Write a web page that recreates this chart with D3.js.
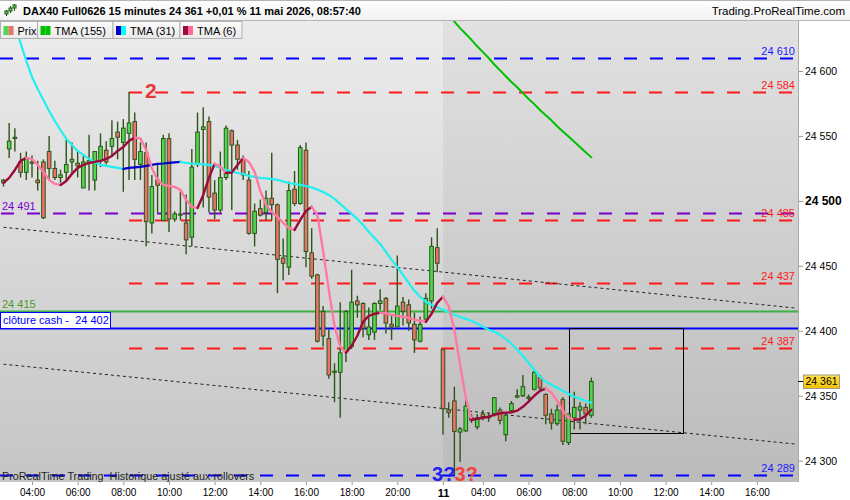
<!DOCTYPE html>
<html>
<head>
<meta charset="utf-8">
<script src="https://cdn.jsdelivr.net/npm/d3@7"></script>
<style>
  body { margin: 0; background: #fff; }
  svg { display: block; font-family: "Liberation Sans", Arial, sans-serif; }
</style>
</head>
<body>
<svg id="chart" width="850" height="500"></svg>
<script>
// ---- values ----
const title = "DAX40 Full0626 15 minutes 24 361 +0,01 % 11 mai 2026, 08:57:40";
const site = "Trading.ProRealTime.com";
const footer = "ProRealTime Trading  Historique ajusté aux rollovers";
const legendItems = ["Prix", "TMA (155)", "TMA (31)", "TMA (6)"];

const day1Start = "02:45";
const day2Start = "02:15";

// [open, high, low, close], one per 15 min bar
const day1Candles = [
  [24514, 24517, 24511, 24516], [24540, 24560, 24533, 24546], [24548, 24556, 24538, 24549],
  [24530, 24537, 24518, 24522], [24522, 24538, 24516, 24533], [24530, 24535, 24518, 24529],
  [24516, 24531, 24508, 24514], [24530, 24532, 24486, 24487], [24538, 24550, 24516, 24525],
  [24525, 24531, 24516, 24518], [24518, 24524, 24514, 24520], [24522, 24547, 24516, 24528],
  [24530, 24545, 24521, 24532], [24529, 24538, 24518, 24527], [24510, 24535, 24510, 24530],
  [24529, 24551, 24508, 24531], [24516, 24538, 24508, 24538], [24531, 24552, 24526, 24542],
  [24539, 24546, 24528, 24530], [24542, 24562, 24534, 24548], [24553, 24561, 24532, 24549],
  [24545, 24563, 24507, 24556], [24552, 24584, 24516, 24560], [24561, 24568, 24516, 24532],
  [24528, 24545, 24516, 24538], [24537, 24545, 24465, 24484], [24483, 24520, 24475, 24511],
  [24516, 24529, 24491, 24512], [24485, 24551, 24485, 24548], [24548, 24552, 24476, 24486],
  [24486, 24492, 24484, 24490], [24489, 24507, 24485, 24490], [24483, 24505, 24459, 24470],
  [24472, 24540, 24465, 24526], [24528, 24568, 24526, 24553], [24555, 24572, 24495, 24557],
  [24561, 24565, 24491, 24503], [24506, 24516, 24486, 24493], [24493, 24538, 24491, 24518],
  [24518, 24558, 24516, 24556], [24554, 24555, 24493, 24543], [24543, 24547, 24524, 24532],
  [24532, 24535, 24516, 24520], [24516, 24523, 24474, 24475], [24475, 24498, 24465, 24492],
  [24494, 24501, 24488, 24489], [24491, 24508, 24485, 24502], [24502, 24537, 24485, 24497],
  [24497, 24498, 24429, 24455], [24456, 24471, 24439, 24452], [24449, 24515, 24443, 24508],
  [24509, 24523, 24496, 24498], [24498, 24543, 24497, 24541], [24539, 24545, 24449, 24461],
  [24460, 24479, 24440, 24442], [24443, 24444, 24391, 24392], [24415, 24419, 24388, 24396],
  [24394, 24401, 24363, 24366], [24368, 24375, 24345, 24369], [24368, 24422, 24333, 24383],
  [24384, 24416, 24376, 24415], [24388, 24447, 24386, 24422], [24423, 24427, 24410, 24420],
  [24421, 24422, 24395, 24402], [24397, 24418, 24393, 24403], [24399, 24422, 24393, 24421],
  [24421, 24432, 24416, 24423], [24425, 24426, 24398, 24406], [24405, 24412, 24393, 24403],
  [24403, 24458, 24403, 24419], [24422, 24426, 24404, 24415], [24420, 24424, 24400, 24406],
  [24405, 24414, 24383, 24393], [24392, 24411, 24391, 24405], [24409, 24429, 24406, 24425],
  [24423, 24472, 24417, 24465], [24464, 24479, 24445, 24452]
];
const day2Candles = [
  [24385.5, 24386, 24320, 24340], [24339, 24345, 24333, 24337], [24346, 24357, 24289, 24322.5],
  [24322, 24326, 24299, 24324.5], [24323, 24348.5, 24322, 24342], [24333, 24336, 24329, 24331],
  [24326, 24336, 24324, 24333], [24336, 24339, 24331, 24334], [24333, 24337, 24330, 24334],
  [24336, 24349, 24334, 24348.5], [24339, 24341, 24328, 24331], [24320, 24335, 24315, 24335],
  [24338.5, 24346, 24337, 24344], [24349, 24355, 24348, 24350], [24350, 24366, 24349, 24357],
  [24349, 24351, 24346, 24348], [24355, 24370, 24354, 24368], [24364, 24366, 24354, 24356],
  [24351, 24352, 24328, 24335], [24336, 24340, 24324, 24329], [24328.5, 24343, 24327, 24339],
  [24347, 24349, 24312, 24315], [24314, 24336, 24312, 24336], [24333, 24353, 24324, 24341],
  [24339, 24345, 24324, 24341.5], [24341, 24344, 24328, 24336], [24335, 24364, 24333, 24361]
];

const tma155Day2 = [
  24647.5, 24642.5, 24638, 24633, 24628.5, 24624, 24619, 24614.5, 24610, 24605, 24600.5,
  24596, 24591.5, 24587.5, 24583, 24578.5, 24574.5, 24570, 24566, 24562, 24557.5, 24553.5,
  24549.5, 24545.5, 24541.5, 24537.5, 24533.5
];
const tma31Day1 = [
  24667, 24650, 24635.4, 24621.5, 24607.7, 24595.4, 24586.2, 24577.7, 24569.2, 24561.5,
  24554.6, 24547.7, 24543.1, 24538.5, 24535.4, 24532.3, 24530, 24527.7, 24526.9, 24526.2,
  24525.4, 24524.6, 24525.4, 24525.8, 24526.2, 24526.9, 24527.7, 24528.5, 24528.8, 24529.2,
  24529.6, 24530, 24529.2, 24528.8, 24528.5, 24528.1, 24527.7, 24526.9, 24525.4, 24523.8,
  24522.7, 24521.5, 24520.8, 24519.2, 24518.5, 24517.7, 24517.3, 24516.9, 24516.2, 24515,
  24513.8, 24513.1, 24512.3, 24511.5, 24510.4, 24508.8, 24506.9, 24504.6, 24501.5, 24497.7,
  24493.8, 24490, 24486.2, 24481.5, 24476.2, 24471.5, 24466.9, 24460.8, 24454.6, 24449.2,
  24443.1, 24436.9, 24430.8, 24426.2, 24422.3, 24420, 24418.1
];
const tma31Day2 = [
  24416.2, 24414.2, 24412.3, 24410.8, 24409.2, 24407.7, 24405.4, 24403.1, 24400.8, 24399.2,
  24396.9, 24393.8, 24390, 24385.4, 24380.8, 24375.4, 24370, 24364.6, 24360.8, 24358.5,
  24356.2, 24353.8, 24351.5, 24349.2, 24347.7, 24346.2, 24344.6
];
const tma6Day1 = [
  24513.8, 24517.7, 24523.8, 24530.8, 24533.1, 24532.3, 24527.7, 24522.3, 24516.2, 24513.1,
  24512.3, 24515.4, 24520.8, 24525.4, 24527.7, 24529.2, 24530, 24530.8, 24532.3, 24534.6,
  24538.5, 24541.5, 24546.2, 24548.8, 24548.1, 24539.2, 24525.4, 24516.2, 24512.3, 24511.5,
  24510.8, 24508.5, 24500.8, 24495.4, 24494.6, 24504.6, 24517.7, 24528.5, 24526.2, 24521.5,
  24521.9, 24527.7, 24533.1, 24530, 24522.3, 24507.7, 24496.9, 24491.5, 24487.7, 24483.1,
  24479.2, 24477.7, 24485.4, 24492.3, 24495.4, 24489.2, 24461.5, 24431.5, 24403.8, 24387.7,
  24383.1, 24388.5, 24396.2, 24406.9, 24411.5, 24413.1, 24413.8, 24413.5, 24412.3, 24411.5,
  24410.8, 24410, 24408.5, 24407.7, 24406.9, 24413.1, 24421.5
];
const tma6Day2 = [
  24426.2, 24419.2, 24400.8, 24373.8, 24348.5, 24331.5, 24332.3, 24333.1, 24333.8, 24335.4,
  24336.5, 24336.9, 24337.3, 24338.5, 24341.5, 24345.4, 24350, 24353.8, 24355.4, 24352.3,
  24346.2, 24338.5, 24333.1, 24331.5, 24331.9, 24334.6, 24339.2
];

const yTicks = [24300, 24350, 24400, 24450, 24500, 24550, 24600];
const xTickTimes = [
  [1, "04:00"], [1, "06:00"], [1, "08:00"], [1, "10:00"], [1, "12:00"], [1, "14:00"],
  [1, "16:00"], [1, "18:00"], [1, "20:00"], [2, "02:15"], [2, "04:00"], [2, "06:00"],
  [2, "08:00"], [2, "10:00"], [2, "12:00"], [2, "14:00"], [2, "16:00"]
];
const xTickLabels = ["04:00", "06:00", "08:00", "10:00", "12:00", "14:00", "16:00", "18:00",
  "20:00", "11", "04:00", "06:00", "08:00", "10:00", "12:00", "14:00", "16:00"];

const blueLevels = [24610, 24289];
const redLevels = [24584, 24485, 24437, 24387];
const redLevelsFrom = [1, "08:15"];
const purpleLevel = 24491;
const greenLevel = 24415;
const cashClose = 24402;
const lastPrice = 24361;
const trendLines = [
  [[1, "02:45", 24479.7], [2, "17:45", 24417.4]],
  [[1, "02:45", 24374.3], [2, "17:45", 24312.7]]
];
const rangeBox = { from: [2, "07:45"], to: [2, "12:45"], top: 24402.5, bottom: 24322 };
const pivotHigh = [1, "08:15", 24584];
const pivotLow = [2, "02:45", 24289];

// ---- layout ----
const W = 850, H = 500;
const plot = { left: 0, right: 798, top: 21, bottom: 482 };
const col = {
  wick: "#2d5418", up: "#4fd84f", down: "#e9736b",
  blue: "#0000ff", red: "#ff1a1a", purple: "#7a00cc", green: "#3cb043",
  tma155: "#00c000", tma31Up: "#0000c8", tma31Down: "#22f0f0",
  tma6Up: "#9a0a3a", tma6Down: "#ff7aa2"
};

const fr = d3.formatLocale({ decimal: ",", thousands: " ", grouping: [3], currency: ["", " €"] });
const fmt = fr.format(",.0f");

const mins = t => { const [h, m] = t.split(":").map(Number); return h * 60 + m; };
const day2Offset = day1Candles.length;
const slot = (day, t) => day === 1
  ? (mins(t) - mins(day1Start)) / 15
  : day2Offset + (mins(t) - mins(day2Start)) / 15;

const x = d3.scaleLinear().domain([-0.606, 139.2]).range([plot.left, plot.right]);
const y = d3.scaleLinear().domain([24300, 24600]).range([460.7, 71]);

const candles = [
  ...day1Candles.map((c, i) => ({ s: i, o: c[0], h: c[1], l: c[2], c: c[3] })),
  ...day2Candles.map((c, i) => ({ s: day2Offset + i, o: c[0], h: c[1], l: c[2], c: c[3] }))
];

const svg = d3.select("#chart");
const defs = svg.append("defs");

function vGrad(id, top, bottom) {
  const g = defs.append("linearGradient").attr("id", id)
    .attr("x1", 0).attr("y1", 0).attr("x2", 0).attr("y2", 1);
  g.append("stop").attr("offset", "0%").attr("stop-color", top);
  g.append("stop").attr("offset", "100%").attr("stop-color", bottom);
}
vGrad("bgPrev", "#ececec", "#c5c5c5");
vGrad("bgCur", "#e1e1e1", "#bbbbbb");
vGrad("head", "#ffffff", "#f1f1f1");
vGrad("legend", "#fbfbfb", "#e9e9e9");
vGrad("gold", "#ffe24a", "#f2c200");

defs.append("clipPath").attr("id", "plotClip").append("rect")
  .attr("x", plot.left).attr("y", plot.top)
  .attr("width", plot.right - plot.left).attr("height", plot.bottom - plot.top);

// backgrounds: previous session lighter than current one
const split = x(day2Offset);
svg.append("rect").attr("x", plot.left).attr("y", plot.top)
  .attr("width", split - plot.left).attr("height", plot.bottom - plot.top)
  .attr("fill", "url(#bgPrev)");
svg.append("rect").attr("x", split).attr("y", plot.top)
  .attr("width", plot.right - split).attr("height", plot.bottom - plot.top)
  .attr("fill", "url(#bgCur)");

const g = svg.append("g").attr("clip-path", "url(#plotClip)");

// horizontal levels
const hLine = (price, x0, color, dashed, w = 2) => g.append("line")
  .attr("x1", x0).attr("x2", plot.right)
  .attr("y1", Math.round(y(price)) + 0.5).attr("y2", Math.round(y(price)) + 0.5)
  .attr("stroke", color).attr("stroke-width", w)
  .attr("stroke-dasharray", dashed ? "13,13" : null);

blueLevels.forEach(p => hLine(p, 0, col.blue, true));
hLine(purpleLevel, 1, col.purple, true);
redLevels.forEach(p => hLine(p, x(slot(...redLevelsFrom)), col.red, true));
hLine(greenLevel, 0, col.green, false);
hLine(cashClose, 0, col.blue, false);

// dotted trend lines
trendLines.forEach(([a, b]) => {
  g.append("line")
    .attr("x1", x(slot(a[0], a[1]))).attr("y1", y(a[2]))
    .attr("x2", x(slot(b[0], b[1]))).attr("y2", y(b[2]))
    .attr("stroke", "#222").attr("stroke-width", 1).attr("stroke-dasharray", "3,3");
});

// range box
g.append("rect")
  .attr("x", Math.round(x(slot(...rangeBox.from))) + 0.5)
  .attr("y", Math.round(y(rangeBox.top)) + 0.5)
  .attr("width", Math.round(x(slot(...rangeBox.to)) - x(slot(...rangeBox.from))))
  .attr("height", Math.round(y(rangeBox.bottom) - y(rangeBox.top)))
  .attr("fill", "none").attr("stroke", "#000").attr("stroke-width", 1);

// candles
const cg = g.append("g").selectAll("g").data(candles).join("g");
cg.append("line")
  .attr("x1", d => x(d.s)).attr("x2", d => x(d.s))
  .attr("y1", d => y(d.h)).attr("y2", d => y(d.l))
  .attr("stroke", col.wick).attr("stroke-width", 1.4);
cg.append("rect")
  .attr("x", d => x(d.s) - 1.8).attr("width", 3.6)
  .attr("y", d => y(Math.max(d.o, d.c)))
  .attr("height", d => Math.max(1, Math.abs(y(d.o) - y(d.c))))
  .attr("fill", d => d.c >= d.o ? col.up : col.down)
  .attr("stroke", col.wick).attr("stroke-width", 1);

// moving averages, coloured by direction
function trendLine(values, start, up, down, width) {
  const pts = values.map((v, i) => [x(start + i), y(v)]);
  const line = d3.line();
  let run = [pts[0]], dir = null;
  const flush = () => {
    if (run.length > 1) g.append("path").attr("d", line(run)).attr("fill", "none")
      .attr("stroke", dir === "up" ? up : down).attr("stroke-width", width)
      .attr("stroke-linejoin", "round").attr("stroke-linecap", "round");
  };
  for (let i = 1; i < pts.length; i++) {
    const d = values[i] >= values[i - 1] ? "up" : "down";
    if (dir && d !== dir) { flush(); run = [pts[i - 1]]; }
    dir = d;
    run.push(pts[i]);
  }
  flush();
}
trendLine(tma155Day2, day2Offset, col.tma155, col.tma155, 2);
trendLine([...tma31Day1, ...tma31Day2], 0, col.tma31Up, col.tma31Down, 2.2);
trendLine([...tma6Day1, ...tma6Day2], 0, col.tma6Up, col.tma6Down, 2.4);

// footer (under the level labels)
svg.append("text").attr("x", 2).attr("y", 480).attr("font-size", 10.8).attr("fill", "#222")
  .attr("xml:space", "preserve").text(footer);

// level labels on the right
const rightLabel = (p, color) => svg.append("text")
  .attr("x", 795).attr("y", y(p) - 3).attr("text-anchor", "end")
  .attr("font-size", 11).attr("fill", color).text(fmt(p));
blueLevels.forEach(p => rightLabel(p, "#1a1aff"));
redLevels.forEach(p => rightLabel(p, col.red));

// left labels
svg.append("text").attr("x", 2).attr("y", y(purpleLevel) - 3).attr("font-size", 11)
  .attr("fill", col.purple).text(fmt(purpleLevel));
svg.append("text").attr("x", 2).attr("y", y(greenLevel) - 3.5).attr("font-size", 11)
  .attr("fill", "#4a9a2a").text(fmt(greenLevel));
svg.append("rect").attr("x", 0.5).attr("y", Math.round(y(greenLevel)) + 1.5)
  .attr("width", 110).attr("height", Math.round(y(cashClose)) - Math.round(y(greenLevel)) - 1)
  .attr("fill", "#fff").attr("stroke", col.blue).attr("stroke-width", 1);
svg.append("text").attr("x", 3).attr("y", y(cashClose) - 4).attr("font-size", 11)
  .attr("fill", col.blue).attr("xml:space", "preserve").text("clôture cash -  " + fmt(cashClose));

// pivot markers
svg.append("text").attr("x", x(slot(pivotHigh[0], pivotHigh[1])) + 16).attr("y", y(pivotHigh[2]) + 6.5)
  .attr("font-size", 21).attr("font-weight", "bold").attr("fill", "#e53935").text("2");
const pl = x(slot(pivotLow[0], pivotLow[1]));
svg.append("text").attr("x", pl + 1).attr("y", y(pivotLow[2]) + 6.5).attr("text-anchor", "end")
  .attr("font-size", 20).attr("font-weight", "bold").attr("fill", "#2222ee").text("3?");
svg.append("text").attr("x", pl).attr("y", y(pivotLow[2]) + 6.5)
  .attr("font-size", 20).attr("font-weight", "bold").attr("fill", "#ee4444").text("3?");

// axis panels
svg.append("rect").attr("x", plot.right).attr("y", plot.top).attr("width", W - plot.right)
  .attr("height", H - plot.top).attr("fill", "#fff");
svg.append("rect").attr("x", 0).attr("y", plot.bottom).attr("width", W)
  .attr("height", H - plot.bottom).attr("fill", "#fff");
svg.append("line").attr("x1", plot.right + 0.5).attr("x2", plot.right + 0.5)
  .attr("y1", plot.top).attr("y2", plot.bottom).attr("stroke", "#aaa");

const yAxis = svg.append("g").attr("transform", `translate(${plot.right},0)`)
  .call(d3.axisRight(y).tickValues(yTicks).tickFormat(fmt).tickSize(5).tickPadding(2).tickSizeOuter(0));
yAxis.select(".domain").remove();
yAxis.selectAll(".tick line").attr("stroke", "#999");
yAxis.selectAll(".tick text").attr("font-family", null).attr("font-size", 10.5).attr("fill", "#000")
  .filter(d => d === 24500).attr("font-weight", "bold").attr("font-size", 12);

// last price tag
const ly = y(lastPrice);
svg.append("line").attr("x1", plot.right).attr("x2", plot.right + 6)
  .attr("y1", ly).attr("y2", ly).attr("stroke", "#000");
svg.append("rect").attr("x", 803.5).attr("y", ly - 6.5).attr("width", 36).attr("height", 13.5)
  .attr("fill", "url(#gold)").attr("stroke", "#999");
svg.append("text").attr("x", 805.5).attr("y", ly).attr("dy", "0.34em")
  .attr("font-size", 10.5).attr("fill", "#000").text(fmt(lastPrice));

const xAxis = svg.append("g").attr("transform", `translate(0,${plot.bottom})`)
  .call(d3.axisBottom(x).tickValues(xTickTimes.map(t => slot(t[0], t[1])))
    .tickFormat((d, i) => xTickLabels[i]).tickSize(3).tickPadding(4).tickSizeOuter(0));
xAxis.select(".domain").remove();
xAxis.selectAll(".tick line").attr("stroke", "#999");
xAxis.selectAll(".tick text").attr("font-family", null).attr("font-size", 10).attr("fill", "#000")
  .filter((d, i) => xTickLabels[i] === "11").attr("font-weight", "bold").attr("font-size", 11);

// header
svg.append("rect").attr("x", 0).attr("y", 0).attr("width", W).attr("height", plot.top)
  .attr("fill", "url(#head)");
svg.append("line").attr("x1", 0).attr("x2", W).attr("y1", 0.5).attr("y2", 0.5).attr("stroke", "#b5b5b5");
svg.append("line").attr("x1", 0).attr("x2", W).attr("y1", plot.top - 0.5).attr("y2", plot.top - 0.5)
  .attr("stroke", "#b5b5b5");
const icon = svg.append("g").attr("stroke", col.wick).attr("stroke-width", 1);
[[6, 10, 16, 11, 14], [10, 6, 13, 8, 11], [14, 4, 11, 5, 8]].forEach(([cx, t, b, bt, bb]) => {
  icon.append("line").attr("x1", cx + 0.5).attr("x2", cx + 0.5).attr("y1", t).attr("y2", b);
  icon.append("rect").attr("x", cx - 1).attr("y", bt).attr("width", 3).attr("height", bb - bt)
    .attr("fill", col.up);
});
svg.append("text").attr("x", 23).attr("y", 15).attr("font-size", 11).attr("font-weight", "bold")
  .attr("fill", "#000").text(title);
svg.append("text").attr("x", 845).attr("y", 15).attr("text-anchor", "end").attr("font-size", 11.5)
  .attr("fill", "#000").text(site);

// legend tabs
const tabEdges = [0.5, 37.5, 113, 180, 242];
const swatches = [[col.up, col.down], [col.tma155, col.tma155], [col.tma31Up, "#00ffff"], [col.tma6Up, "#ff6a9a"]];
legendItems.forEach((name, i) => {
  const x0 = tabEdges[i], x1 = tabEdges[i + 1];
  svg.append("rect").attr("x", x0).attr("y", plot.top + 0.5).attr("width", x1 - x0).attr("height", 17)
    .attr("fill", "url(#legend)").attr("stroke", "#b0b0b0");
  svg.append("rect").attr("x", x0 + 3).attr("y", 26).attr("width", 5).attr("height", 9).attr("fill", swatches[i][0]);
  svg.append("rect").attr("x", x0 + 8).attr("y", 26).attr("width", 5).attr("height", 9).attr("fill", swatches[i][1]);
  svg.append("text").attr("x", x0 + 17).attr("y", 34.5).attr("font-size", 11).attr("fill", "#000").text(name);
});
</script>
</body>
</html>
